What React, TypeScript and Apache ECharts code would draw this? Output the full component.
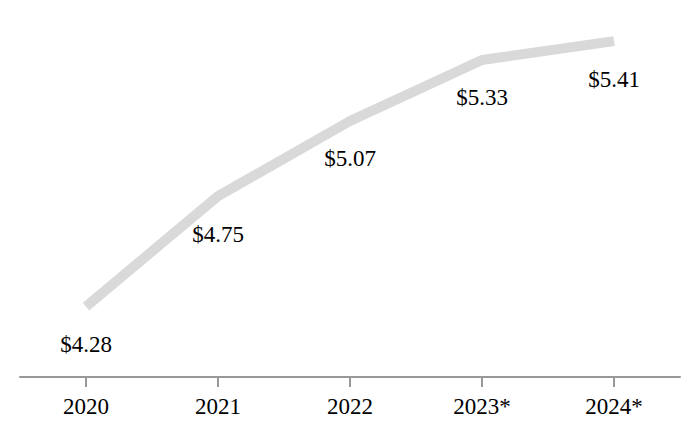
import React, { useEffect, useRef } from "react";
import * as echarts from "echarts";

const categories = ["2020", "2021", "2022", "2023*", "2024*"];
const values = [4.28, 4.75, 5.07, 5.33, 5.41];

export default function App() {
  const ref = useRef<HTMLDivElement>(null);
  useEffect(() => {
    if (!ref.current) return;
    const chart = echarts.init(ref.current, undefined, { renderer: "svg" });
    chart.setOption({
      animation: false,
      textStyle: { fontFamily: "'Liberation Serif', 'Times New Roman', serif" },
      grid: { left: 20, right: 20, top: 20, bottom: 63 },
      xAxis: {
        type: "category",
        data: categories,
        boundaryGap: true,
        axisLine: { show: true, lineStyle: { color: "#999999", width: 2 } },
        axisTick: { show: true, alignWithLabel: true, interval: 0, length: 10, lineStyle: { color: "#999999", width: 2 } },
        axisLabel: {
          color: "#000000",
          fontSize: 23,
          margin: 18,
          fontFamily: "'Liberation Serif', 'Times New Roman', serif",
        },
      },
      yAxis: {
        type: "value",
        min: 3.98,
        max: 5.5,
        show: false,
        splitLine: { show: false },
      },
      series: [
        {
          type: "line",
          data: values,
          symbol: "circle",
          symbolSize: 1,
          showSymbol: true,
          itemStyle: { color: "rgba(0,0,0,0)", borderWidth: 0 },
          lineStyle: { color: "#d9d9d9", width: 10, cap: "butt" },
          label: {
            show: true,
            position: "bottom",
            distance: 26,
            color: "#000000",
            fontSize: 23,
            fontFamily: "'Liberation Serif', 'Times New Roman', serif",
            formatter: (p: any) => "$" + p.value.toFixed(2),
          },
        },
      ],
    });
    return () => chart.dispose();
  }, []);
  return <div ref={ref} style={{ width: 700, height: 440, position: "absolute", left: 0, top: 0 }} />;
}
